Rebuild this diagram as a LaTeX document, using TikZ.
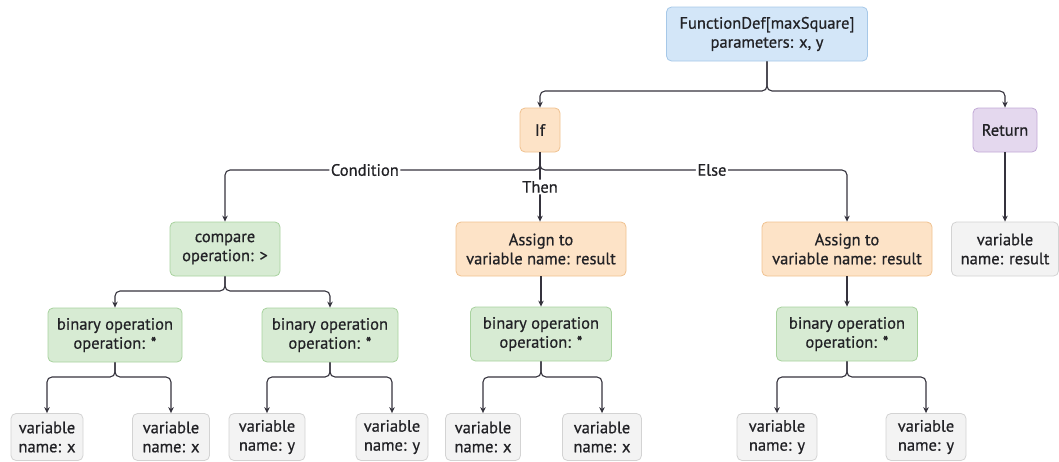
\documentclass[tikz,border=0pt]{standalone}
\usepackage{fontspec}
\setmainfont{PT Sans}[FakeBold=0.7]
\usetikzlibrary{arrows.meta}
\definecolor{txt}{HTML}{222226}
\definecolor{wire}{HTML}{35333D}
\definecolor{bluef}{HTML}{D3E6F8}\definecolor{blued}{HTML}{A6C8E8}
\definecolor{peachf}{HTML}{FDE3C7}\definecolor{peachd}{HTML}{F0C290}
\definecolor{purpf}{HTML}{E4D8EE}\definecolor{purpd}{HTML}{C2AAD6}
\definecolor{greenf}{HTML}{D7EBD3}\definecolor{greend}{HTML}{A8D29E}
\definecolor{grayf}{HTML}{F3F3F3}\definecolor{grayd}{HTML}{D3D3D3}
\tikzset{
  box/.style={rounded corners=5pt, line width=0.8pt, align=center, inner sep=0pt,
    text=txt, font=\fontsize{16.5}{19}\selectfont},
  funcbox/.style={box, fill=bluef, draw=blued},
  ctrlbox/.style={box, fill=peachf, draw=peachd},
  retbox/.style={box, fill=purpf, draw=purpd},
  opbox/.style={box, fill=greenf, draw=greend},
  varbox/.style={box, fill=grayf, draw=grayd},
  edge/.style={draw=wire, line width=1.1pt, rounded corners=5pt,
    -{Stealth[length=6pt,width=5.5pt]}},
  lbl/.style={fill=white, inner sep=1.5pt, text=txt, font=\fontsize{16.5}{19}\selectfont},
}
\begin{document}
\begin{tikzpicture}[x=1pt,y=-1pt]
\useasboundingbox (0,0) rectangle (1059,461);
% tree levels of the branching lines
\coordinate (y1) at (0,91);
\coordinate (y2) at (0,170);
\coordinate (y3) at (0,291);
\coordinate (y4) at (0,377);

\node[funcbox, minimum width=201pt, minimum height=54pt] (fd) at (767,34) {FunctionDef[maxSquare]\\parameters: x, y};
\node[ctrlbox, minimum width=40pt, minimum height=44pt] (if) at (540,130) {If};
\node[retbox, minimum width=64pt, minimum height=44pt] (ret) at (1005,130) {Return};
\node[varbox, minimum width=107pt, minimum height=54pt] (rv) at (1005,249) {variable\\name: result};

\node[opbox, minimum width=110pt, minimum height=54pt] (cmp) at (225,249) {compare\\operation: >};
\node[ctrlbox, minimum width=170pt, minimum height=54pt] (as1) at (541,249) {Assign to\\variable name: result};
\node[ctrlbox, minimum width=170pt, minimum height=54pt] (as2) at (847,249) {Assign to\\variable name: result};

\node[opbox, minimum width=134pt, minimum height=54pt] (b1) at (115,335) {binary operation\\operation: *};
\node[opbox, minimum width=136pt, minimum height=54pt] (b2) at (330,335) {binary operation\\operation: *};
\node[opbox, minimum width=141pt, minimum height=54pt] (b3) at (541,334) {binary operation\\operation: *};
\node[opbox, minimum width=141pt, minimum height=54pt] (b4) at (847,334) {binary operation\\operation: *};

\node[varbox, minimum width=72pt, minimum height=47pt] (l1) at (47,437) {variable\\name: x};
\node[varbox, minimum width=77pt, minimum height=47pt] (l2) at (171,437) {variable\\name: x};
\node[varbox, minimum width=76pt, minimum height=47pt] (l3) at (267,437) {variable\\name: y};
\node[varbox, minimum width=72pt, minimum height=47pt] (l4) at (392,437) {variable\\name: y};
\node[varbox, minimum width=75pt, minimum height=47pt] (l5) at (483,437) {variable\\name: x};
\node[varbox, minimum width=79pt, minimum height=47pt] (l6) at (602,437) {variable\\name: x};
\node[varbox, minimum width=80pt, minimum height=47pt] (l7) at (777,437) {variable\\name: y};
\node[varbox, minimum width=80pt, minimum height=47pt] (l8) at (926,437) {variable\\name: y};

% function body
\draw[edge] (fd.south) -- (fd.south |- y1) -| (if.north);
\draw[edge] (fd.south) -- (fd.south |- y1) -| (ret.north);
\draw[edge] (ret.south) -- (rv.north);

% if branches
\draw[edge] (if.south) -- (if.south |- y2) -| node[lbl, pos=0.278] {Condition} (cmp.north);
\draw[edge] (if.south) -- node[lbl, pos=0.5] {Then} (if.south |- as1.north);
\draw[edge] (if.south) -- (if.south |- y2) -| node[lbl, pos=0.28] {Else} (as2.north);

% comparison operands
\draw[edge] (cmp.south) -- (cmp.south |- y3) -| (b1.north);
\draw[edge] (cmp.south) -- (cmp.south |- y3) -| (b2.north);

% assignments
\draw[edge] (as1.south) -- (b3.north);
\draw[edge] (as2.south) -- (b4.north);

% operands of the multiplications
\draw[edge] (b1.south) -- (b1.south |- y4) -| (l1.north);
\draw[edge] (b1.south) -- (b1.south |- y4) -| (l2.north);
\draw[edge] (b2.south) -- (b2.south |- y4) -| (l3.north);
\draw[edge] (b2.south) -- (b2.south |- y4) -| (l4.north);
\draw[edge] (b3.south) -- (b3.south |- y4) -| (l5.north);
\draw[edge] (b3.south) -- (b3.south |- y4) -| (l6.north);
\draw[edge] (b4.south) -- (b4.south |- y4) -| (l7.north);
\draw[edge] (b4.south) -- (b4.south |- y4) -| (l8.north);
\end{tikzpicture}
\end{document}
